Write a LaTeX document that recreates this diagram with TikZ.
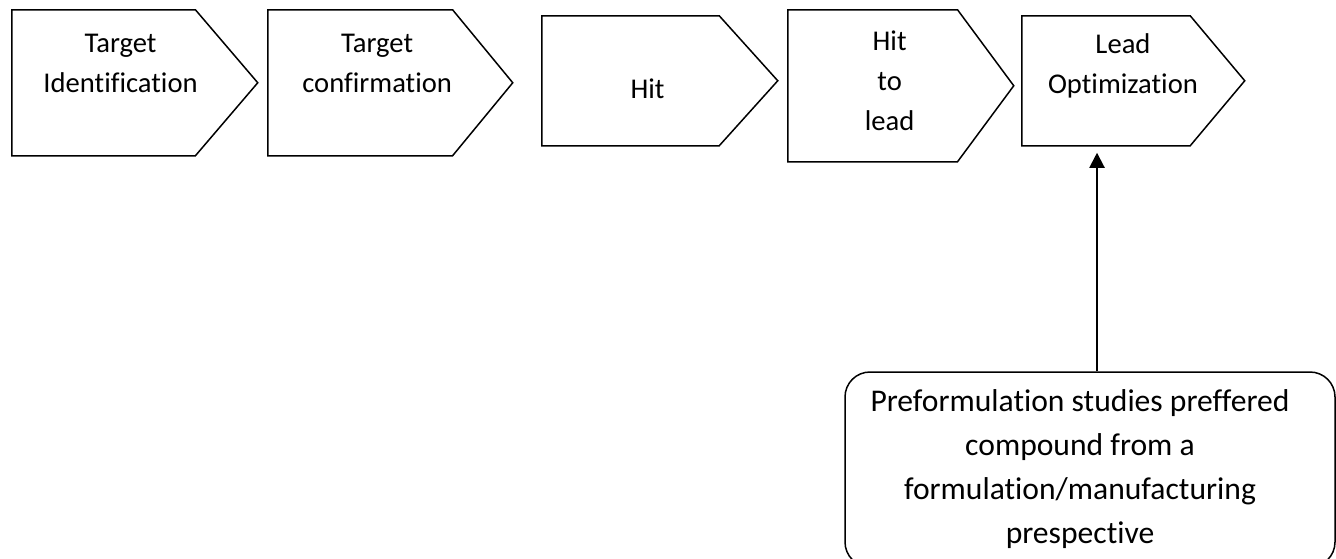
\documentclass[tikz,border=0pt]{standalone}
\usepackage{fontspec}
\setsansfont{Carlito}[Ligatures={NoCommon,NoContextual}]
\usetikzlibrary{shapes.symbols,arrows.meta}

\begin{document}
\begin{tikzpicture}[
  x=0.5pt, y=-0.5pt,
  font=\sffamily\fontsize{14.3}{20}\selectfont,
  every matrix/.style={ampersand replacement=\&,column sep=4.25pt,inner sep=0pt,outer sep=0pt},
  stage/.style={draw,line width=0.75pt,signal,signal to=east},
  stagetext/.style={xshift=8.5pt},
  note/.style={draw,line width=0.75pt,rounded corners=12.5pt},
  notetext/.style={xshift=-5pt,font=\sffamily\fontsize{15.8}{22}\selectfont},
  flow/.style={-{Triangle[length=7.5pt,width=7.5pt]}, line width=1pt},
  every node/.style={align=center}]

\useasboundingbox (0,0) rectangle (1336,558);
\clip (0,0) rectangle (1336,558);

% Position the stages using a matrix layout
\matrix[anchor=north west] at (11,9) {
      \node[stage,minimum width=123pt,minimum height=73pt,signal pointer angle=99,
        label={[stagetext,yshift=9.75pt]center:Target\\Identification}] (targetId) {};
      \& \node[stage,minimum width=122.5pt,minimum height=73pt,signal pointer angle=101,
        label={[stagetext,yshift=9.75pt]center:Target\\confirmation}] (targetConf) {};
      \&[9.5pt] \node[stage,minimum width=118pt,minimum height=65pt,signal pointer angle=96,yshift=-3pt,
        label={[stagetext,yshift=-4pt]center:Hit}] (hit) {};
      \& \node[stage,minimum width=113pt,minimum height=76pt,signal pointer angle=107,
        label={[stagetext,yshift=2.25pt]center:Hit\\to\\lead}] (hitToLead) {};
      \&[-1pt] \node[stage,minimum width=111.5pt,minimum height=65pt,signal pointer angle=100,yshift=-3pt,
        label={[stagetext,yshift=7.5pt]center:Lead\\Optimization}] (leadOpt) {};
      \\
  };

% The preformulation box feeds lead optimization
\node[note,minimum width=245pt,minimum height=97.5pt,
  label={[notetext]center:Preformulation studies preffered\\compound from a\\formulation/manufacturing\\prespective}]
  (pref) at (1090,469.5) {};

\coordinate (foot) at ([xshift=3.5pt]pref.north);
\draw [flow,shorten >=3.5pt] (foot) -- (foot |- leadOpt.south);
\end{tikzpicture}
\end{document}
